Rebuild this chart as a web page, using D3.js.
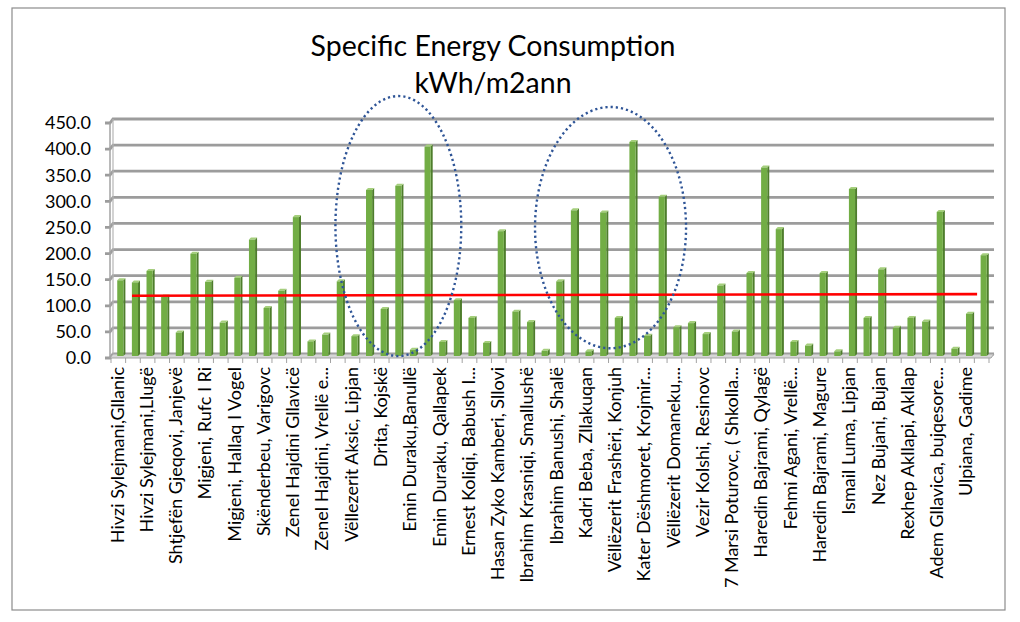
<!DOCTYPE html>
<html>
<head>
<meta charset="utf-8">
<script src="https://cdn.jsdelivr.net/npm/d3@7"></script>
<style>
  body { margin: 0; background: #fff; }
  svg text { font-family: Lato, "Open Sans", sans-serif; fill: #000; }
</style>
</head>
<body>
<div id="root"></div>
<script>
// school names, only every second one is printed on the axis
const labels = ["Hivzi Sylejmani,Gllanic", "Hivzi Sylejmani,Llugë", "Shtjefën Gjeqovi, Janjevë", "Migjeni, Rufc I Ri",
  "Migjeni, Hallaq I Vogel", "Skënderbeu, Varigovc", "Zenel Hajdini Gllavicë", "Zenel Hajdini, Vrellë e...",
  "Vëllezerit Aksic, Lipjan", "Drita, Kojskë", "Emin Duraku,Banullë", "Emin Duraku, Qallapek",
  "Ernest Koliqi, Babush I...", "Hasan Zyko Kamberi, Sllovi", "Ibrahim Krasniqi, Smallushë", "Ibrahim Banushi, Shalë",
  "Kadri Beba, Zllakuqan", "Vëllëzerit Frashëri, Konjuh", "Kater Dëshmoret, Krojmir...", "Vëllëzerit Domaneku,...",
  "Vezir Kolshi, Resinovc", "7 Marsi Poturovc, ( Shkolla...", "Haredin Bajrami, Qylagë", "Fehmi Agani, Vrellë...",
  "Haredin Bajrami, Magure", "Ismail Luma, Lipjan", "Nez Bujani, Bujan", "Rexhep Akllapi, Akllap",
  "Adem Gllavica, bujqesore...", "Ulpiana, Gadime"];

const values = [144, 140, 162, 113, 44, 195, 141, 63, 149, 222,
  91, 124, 265, 27, 40, 142, 37, 317, 89, 325,
  11, 400, 26, 106, 72, 24, 238, 84, 64, 9,
  142, 278, 8, 274, 72, 409, 38, 304, 54, 62,
  41, 134, 46, 158, 360, 242, 26, 19, 158, 8,
  319, 72, 165, 53, 72, 65, 275, 13, 80, 192];

const yTicks = [0, 50, 100, 150, 200, 250, 300, 350, 400, 450];

// red reference line (start/end bar index and value)
const refLine = [{ i: 1, v: 111.5 }, { i: 59, v: 114.7 }];

// dotted ellipses: centre bar index, centre value, half width in bars, half height in value
const marks = [
  { i: 19.5, v: 245, ri: 4.3, rv: 249 },
  { i: 34, v: 242, ri: 5.16, rv: 231 }
];

const W = 1020, H = 622;
const svg = d3.select('#root').append('svg').attr('width', W).attr('height', H);

// chart frame
svg.append('rect').attr('x', 12).attr('y', 8).attr('width', 993).attr('height', 602)
  .attr('fill', 'none').attr('stroke', '#8c8c8c').attr('stroke-width', 1.2);

// title
svg.append('text').attr('x', 493).attr('y', 56).attr('text-anchor', 'middle')
  .style('font-size', '28.5px').text('Specific Energy Consumption');
svg.append('text').attr('x', 493).attr('y', 93).attr('text-anchor', 'middle')
  .style('font-size', '28.5px').text('kWh/m2ann');

const x = d3.scaleBand().domain(d3.range(values.length)).range([113, 991]);
const y = d3.scaleLinear().domain([0, 450]).range([354, 119]);
const bw = x.bandwidth();
const fx = -3, fy = 4;   // front edge offset of the 3d box

// back wall gridlines with the little side step
svg.append('g').selectAll('path').data(yTicks).enter().append('path')
  .attr('d', d => `M${113 + fx - 5},${y(d) + fy} L${113 + fx},${y(d) + fy} L113,${y(d)} L${991 + 3},${y(d)}`)
  .attr('fill', 'none').attr('stroke', '#9c9c9c').attr('stroke-width', 2.8);

// left wall edges
svg.append('line').attr('x1', 113 + fx).attr('x2', 113 + fx).attr('y1', y(450) + fy).attr('y2', y(0) + fy)
  .attr('stroke', '#a3a3a3').attr('stroke-width', 1.5);
svg.append('line').attr('x1', 113).attr('x2', 113).attr('y1', y(450)).attr('y2', y(0))
  .attr('stroke', '#b5b5b5').attr('stroke-width', 1.2);

// floor
svg.append('path')
  .attr('d', `M113,${y(0)} L994,${y(0)} L${994 + fx},${y(0) + fy} L${113 + fx},${y(0) + fy} Z`)
  .attr('fill', '#d6d6d6').attr('stroke', '#a3a3a3').attr('stroke-width', 1);

// y labels
svg.append('g').selectAll('text').data(yTicks).enter().append('text')
  .attr('x', 91).attr('y', d => y(d) + fy).attr('dy', '0.35em').attr('text-anchor', 'end')
  .style('font-size', '18px').text(d => d.toFixed(1));

// x ticks
svg.append('g').selectAll('line').data(d3.range(values.length + 1)).enter().append('line')
  .attr('x1', i => 113 + i * bw + fx + 1).attr('x2', i => 113 + i * bw + fx + 1)
  .attr('y1', y(0) + fy).attr('y2', y(0) + fy + 5)
  .attr('stroke', '#a3a3a3').attr('stroke-width', 1);

// bars as small 3d columns
const bars = svg.append('g').selectAll('g').data(values).enter().append('g');
const fw = bw * 0.42, dep = 2;
bars.append('path').attr('fill', '#4e7d2c')
  .attr('d', (d, i) => {
    const l = x(i) + bw / 2 - fw / 2, r = l + fw, t = y(d) + 1.5, b = y(0) + 2;
    return `M${r},${t} L${r + dep},${t - dep} L${r + dep},${b - dep} L${r},${b} Z`;
  });
bars.append('path').attr('fill', '#a5cf7c')
  .attr('d', (d, i) => {
    const l = x(i) + bw / 2 - fw / 2, r = l + fw, t = y(d) + 1.5;
    return `M${l},${t} L${l + dep},${t - dep} L${r + dep},${t - dep} L${r},${t} Z`;
  });
bars.append('rect').attr('fill', '#72ad45')
  .attr('x', (d, i) => x(i) + bw / 2 - fw / 2).attr('width', fw)
  .attr('y', d => y(d) + 1.5).attr('height', d => y(0) + 2 - y(d) - 1.5);

// x labels, every second bar
svg.append('g').selectAll('text').data(labels).enter().append('text')
  .attr('transform', (d, k) => `translate(${x(k * 2) + bw / 2 + fx},${y(0) + 13}) rotate(-90)`)
  .attr('dy', '0.35em').attr('text-anchor', 'end')
  .style('font-size', '18px').text(d => d);

// red reference line
svg.append('line')
  .attr('x1', x(refLine[0].i) + bw * 0.3).attr('y1', y(refLine[0].v))
  .attr('x2', x(refLine[1].i) + bw * 0.05).attr('y2', y(refLine[1].v))
  .attr('stroke', '#ff0000').attr('stroke-width', 2.6);

// dotted ellipses
svg.append('g').selectAll('ellipse').data(marks).enter().append('ellipse')
  .attr('cx', d => 113 + d.i * bw).attr('cy', d => y(d.v))
  .attr('rx', d => d.ri * bw).attr('ry', d => y(0) - y(d.rv))
  .attr('fill', 'none').attr('stroke', '#2f5597').attr('stroke-width', 2.4)
  .attr('stroke-dasharray', '2.2,3');
</script>
</body>
</html>
